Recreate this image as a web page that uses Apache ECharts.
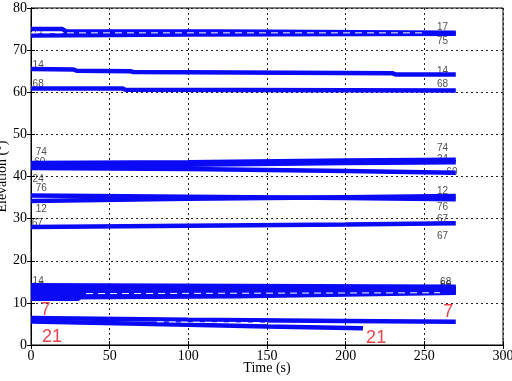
<!DOCTYPE html>
<html><head><meta charset="utf-8">
<script src="https://cdn.jsdelivr.net/npm/echarts@6/dist/echarts.min.js"></script>
<style>html,body{margin:0;padding:0;background:#fff}#c{width:512px;height:381px}</style>
</head><body><div id="c"></div>
<script>
// Tracks: [time (s), elevation (deg)]
const trk17 = [[0,75.0],[20,75.0],[22,74.5],[120,74.4],[270,74.1]];
const trk75 = [[0,73.5],[100,73.7],[270,73.9]];
const trk14 = [[0,65.5],[27,65.4],[29,65.1],[63,65.0],[65,64.8],[230,64.5],[232,64.2],[270,64.2]];
const trk68 = [[0,60.9],[58,60.9],[60,60.6],[270,60.4]];
const trk74 = [[0,43.2],[100,43.4],[200,43.8],[270,44.0]];
const trk24 = [[0,42.4],[100,42.8],[200,43.2],[270,43.4]];
const trk60 = [[0,42.0],[100,41.8],[200,41.3],[270,40.9]];
const trk76 = [[0,35.5],[100,35.2],[200,34.9],[270,34.6]];
const trk12 = [[0,34.2],[100,34.7],[200,35.1],[270,35.4]];
const trk67 = [[0,28.0],[100,28.3],[200,28.6],[270,28.9]];
const lowA = [[0,14.2],[270,13.8]];
const lowB = [[0,13.5],[270,13.2]];
const lowC = [[0,12.8],[270,12.6]];
const lowD = [[0,12.0],[270,12.9]];
const lowE = [[0,11.3],[130,11.6],[270,12.4]];
const lowF = [[0,11.0],[30,11.0],[32,11.8],[270,13.5]];
const trk7  = [[0,6.4],[100,6.0],[200,5.7],[270,5.5]];
const trk21 = [[0,5.6],[100,4.8],[150,4.4],[211,4.0]];
const blueTracks = [trk17,trk75,trk14,trk68,trk74,trk24,trk60,trk76,trk12,trk67,lowA,lowB,lowC,lowD,lowE,lowF,trk7,trk21];
// white gaps seen inside bands
const gapTracks = [[[0,74.1],[250,74.1]], [[35,12.2],[260,12.4]], [[80,5.5],[150,5.3]]];

// small PRN labels
const labTexts = ['17','14','68','74','60','24','76','12','67','14','17','12','68',
                  '17','75','14','68','74','24','60','12','76','67','67','68','66','67'];
const labT     = [1,1,1,3,2,1,3,3,0.5,1,1,1,1,
                  258,258,258,258,258,258,264,258,258,258,258,260,260,260];
const labE     = [74.3,66.5,61.8,45.8,43.5,39.4,37.1,32.3,29.0,15.2,13.8,12.8,11.9,
                  75.5,72.2,65.1,61.8,46.8,44.2,40.9,36.6,32.8,29.9,25.7,14.9,14.2,13.4];
// red labels
const redTexts = ['7','21','7','21'];
const redT     = [6,7,262,213];
const redE     = [8.2,1.8,7.8,1.7];

const xTicks = [0,50,100,150,200,250,300];
const yTicks = [0,10,20,30,40,50,60,70,80];

const series = [];
blueTracks.forEach(d => series.push({type:'line', data:d, symbol:'none', silent:true,
  lineStyle:{color:'#0a0af5', width:4.5}, animation:false}));
gapTracks.forEach(d => series.push({type:'line', data:d, symbol:'none', silent:true,
  lineStyle:{color:'#ffffff', width:1, type:[7,5]}, animation:false}));
series.push({type:'scatter', symbolSize:0, animation:false, silent:true,
  data: labTexts.map((s,i)=>({value:[labT[i],labE[i]], name:s})),
  label:{show:true, position:'inside', align:'left', formatter:p=>p.name,
    fontFamily:'Liberation Sans', fontSize:10, color:'#222'}});
series.push({type:'scatter', symbolSize:0, animation:false, silent:true,
  data: redTexts.map((s,i)=>({value:[redT[i],redE[i]], name:s})),
  label:{show:true, position:'inside', align:'left', formatter:p=>p.name,
    fontFamily:'Liberation Sans', fontSize:18, color:'#e8141c'}});

const axFont = {fontFamily:'Liberation Serif', fontSize:14, color:'#000'};
const chart = echarts.init(document.getElementById('c'), null, {renderer:'canvas'});
chart.setOption({
  animation:false,
  grid:{left:31, right:9, top:8, bottom:36, containLabel:false, outerBoundsMode:'none',
    show:true, borderColor:'#000', borderWidth:1, backgroundColor:'#fff'},
  xAxis:[{type:'value', min:0, max:300, interval:50, position:'bottom',
    name:'Time (s)', nameLocation:'middle', nameGap:16, nameMoveOverlap:false, nameTextStyle:axFont,
    axisLine:{show:true, lineStyle:{color:'#000'}}, axisTick:{inside:true, length:4, lineStyle:{color:'#000'}},
    axisLabel:Object.assign({margin:4, formatter:v=>xTicks.includes(v)?String(v):''}, axFont),
    splitLine:{show:true, lineStyle:{color:'#222', type:[2,3], width:1}}},
   {type:'value', min:0, max:300, interval:50, position:'top',
    axisLine:{show:true, lineStyle:{color:'#000'}}, axisTick:{inside:true, length:4, lineStyle:{color:'#000'}},
    axisLabel:{show:false}, splitLine:{show:false}}],
  yAxis:[{type:'value', min:0, max:80, interval:10, position:'left',
    name:'Elevation (°)', nameLocation:'middle', nameGap:22, nameRotate:90, nameMoveOverlap:false, nameTextStyle:axFont,
    axisLine:{show:true, lineStyle:{color:'#000'}}, axisTick:{inside:true, length:4, lineStyle:{color:'#000'}},
    axisLabel:Object.assign({margin:4, formatter:v=>yTicks.includes(v)?String(v):''}, axFont),
    splitLine:{show:true, lineStyle:{color:'#222', type:[2,3], width:1}}},
   {type:'value', min:0, max:80, interval:10, position:'right',
    axisLine:{show:true, lineStyle:{color:'#000'}}, axisTick:{inside:true, length:4, lineStyle:{color:'#000'}},
    axisLabel:{show:false}, splitLine:{show:false}}],
  series: series
});
</script></body></html>
